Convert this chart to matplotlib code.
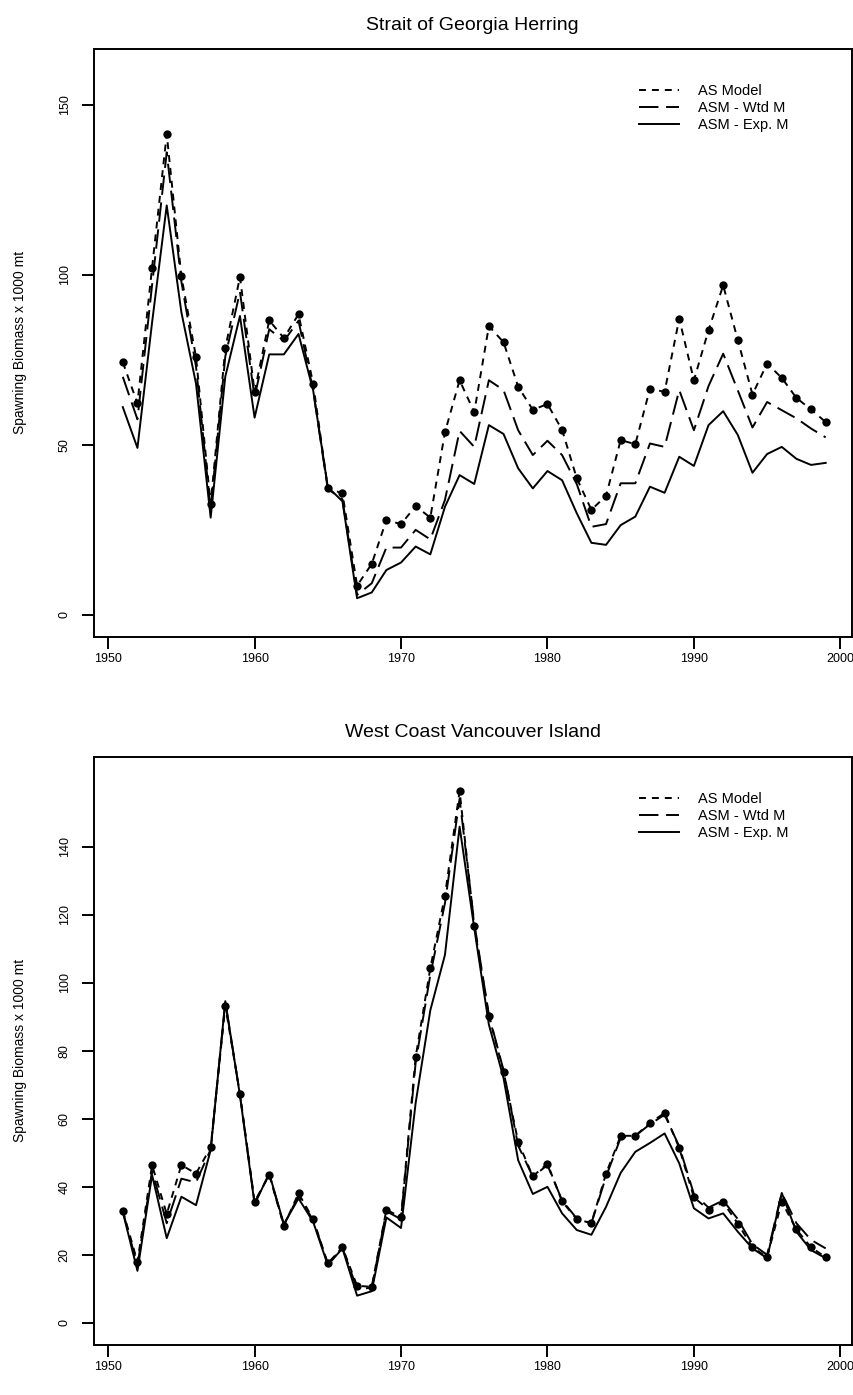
import numpy as np
import matplotlib
matplotlib.use("Agg")
import matplotlib.pyplot as plt

plt.rcParams['font.family'] = ['Liberation Sans', 'DejaVu Sans']
plt.rcParams['lines.scale_dashes'] = False

years = list(range(1951, 2000))

# Strait of Georgia herring, spawning biomass (1000 mt)
sog_as_model = [74.3, 62.2, 102.1, 141.4, 99.6, 75.8, 32.5, 78.4, 99.4, 65.6,
                86.6, 81.4, 88.4, 68.0, 37.3, 35.7, 8.6, 15.0, 27.9, 26.7,
                32.0, 28.6, 53.7, 69.0, 59.6, 84.9, 80.2, 67.1, 60.3, 62.0,
                54.4, 40.2, 30.9, 35.0, 51.4, 50.2, 66.5, 65.6, 87.1, 69.0,
                83.7, 96.9, 80.8, 64.8, 73.9, 69.7, 63.8, 60.4, 56.7]
sog_wtd_m = [70.0, 57.5, 97.0, 136.0, 98.0, 73.0, 31.0, 76.0, 95.0, 64.0,
             84.0, 80.5, 86.5, 66.0, 37.0, 34.0, 5.9, 9.3, 19.8, 19.8,
             25.0, 22.2, 33.8, 54.1, 49.4, 69.0, 66.1, 54.3, 47.0, 51.2,
             47.0, 38.5, 25.9, 26.7, 38.7, 38.7, 50.4, 49.4, 66.1, 54.3,
             67.3, 76.8, 66.0, 55.1, 62.6, 60.2, 57.8, 54.8, 52.2]
sog_exp_m = [61.1, 49.1, 86.0, 120.4, 89.0, 68.0, 28.6, 70.1, 87.9, 58.0,
             76.6, 76.6, 82.6, 66.0, 37.6, 33.4, 4.9, 6.6, 13.2, 15.4,
             20.1, 17.8, 31.8, 41.1, 38.5, 55.8, 53.2, 43.1, 37.2, 42.3,
             39.6, 29.9, 21.2, 20.6, 26.4, 28.9, 37.7, 35.9, 46.5, 43.8,
             55.8, 59.9, 52.9, 41.8, 47.3, 49.4, 45.9, 44.1, 44.7]

# West Coast Vancouver Island herring
wcvi_as_model = [33.0, 17.9, 46.4, 32.0, 46.4, 43.9, 51.6, 93.2, 67.4, 35.6,
                 43.5, 28.5, 38.1, 30.5, 17.5, 22.2, 10.9, 10.6, 33.3, 31.0,
                 78.2, 104.3, 125.6, 156.4, 116.8, 90.3, 73.9, 53.2, 43.1, 46.8,
                 35.7, 30.5, 29.3, 43.9, 55.0, 55.0, 58.8, 61.7, 51.4, 36.9,
                 33.3, 35.4, 29.2, 22.2, 19.3, 35.6, 27.5, 22.2, 19.3]
wcvi_wtd_m = [32.8, 16.8, 44.7, 29.3, 42.4, 41.3, 51.0, 94.3, 67.2, 35.3,
              43.7, 28.8, 37.3, 30.2, 17.4, 22.0, 10.0, 10.3, 32.8, 30.5,
              76.6, 102.3, 123.4, 154.1, 117.6, 90.6, 74.3, 52.1, 43.0, 46.4,
              36.0, 30.7, 29.3, 43.0, 54.4, 55.0, 58.4, 61.2, 51.9, 37.9,
              33.9, 36.0, 30.5, 23.1, 20.0, 38.2, 29.3, 24.4, 21.9]
wcvi_exp_m = [32.6, 15.3, 43.5, 24.9, 37.1, 34.6, 50.8, 94.6, 66.9, 34.9,
              43.9, 29.0, 36.6, 29.7, 17.0, 21.9, 8.0, 9.3, 31.0, 27.9,
              64.7, 91.9, 108.2, 145.9, 116.1, 87.7, 72.0, 47.8, 37.9, 40.0,
              32.2, 27.3, 25.9, 34.1, 44.1, 50.3, 52.9, 55.7, 46.9, 33.7,
              30.7, 32.2, 26.8, 21.9, 19.0, 38.2, 26.8, 21.4, 19.0]

series_labels = ["AS Model", "ASM - Wtd M", "ASM - Exp. M"]
x_ticks = [1950, 1960, 1970, 1980, 1990, 2000]


def draw_panel(ax, title, as_model, wtd_m, exp_m, ylim, yticks):
    """
    Draw one stock: three biomass series plus the AS model points.
    """
    lw = 1.4
    ax.plot(years, as_model, color='black', lw=lw, dashes=(5, 4.3),
            label=series_labels[0])
    ax.plot(years, wtd_m, color='black', lw=lw, dashes=(14, 5.5),
            label=series_labels[1])
    ax.plot(years, exp_m, color='black', lw=lw, label=series_labels[2])
    ax.plot(years, as_model, 'o', color='black', ms=6, mew=0)

    ax.set_xlim(1949.0, 2000.8)
    ax.set_ylim(*ylim)
    ax.set_xticks(x_ticks)
    ax.set_yticks(yticks)
    for spine in ax.spines.values():
        spine.set_linewidth(1.4)
    ax.tick_params(axis='both', length=8.5, width=1.4, labelsize=9,
                   direction='out')
    ax.tick_params(axis='x', pad=3)
    ax.tick_params(axis='y', pad=8)
    for lbl in ax.get_yticklabels():
        lbl.set_rotation(90)
        lbl.set_va('center')

    ax.set_title(title, fontsize=14, pad=14)
    ax.set_ylabel("Spawning Biomass x 1000 mt", fontsize=10)
    ax.yaxis.set_label_coords(-0.088, 0.5)

    ax.legend(loc='upper left', bbox_to_anchor=(0.7196, 0.94),
              frameon=False, fontsize=10.5, handlelength=2.74,
              handletextpad=1.3, labelspacing=0.2, borderpad=0,
              borderaxespad=0)


def main():
    fig = plt.figure(figsize=(8.54, 13.95), dpi=100)
    ax_top = fig.add_axes([0.1095, 0.5436, 0.8882, 0.4213])
    ax_bot = fig.add_axes([0.1095, 0.0361, 0.8882, 0.4213])

    draw_panel(ax_top, "Strait of Georgia Herring",
               sog_as_model, sog_wtd_m, sog_exp_m,
               (-6.4, 166.4), [0, 50, 100, 150])
    draw_panel(ax_bot, "West Coast Vancouver Island",
               wcvi_as_model, wcvi_wtd_m, wcvi_exp_m,
               (-6.4, 166.4), [0, 20, 40, 60, 80, 100, 120, 140])

    fig.savefig("out.png", dpi=100)


main()
